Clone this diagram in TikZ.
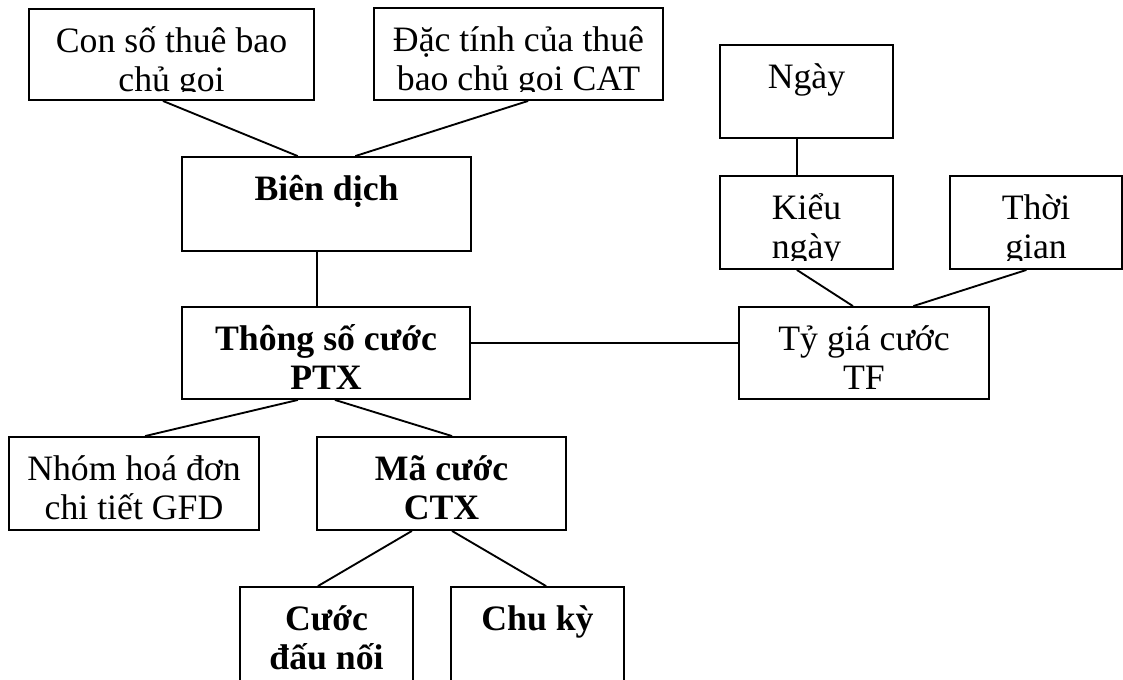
\documentclass[tikz,border=0pt]{standalone}
\usepackage{fontspec}
\setmainfont{Liberation Serif}
\usetikzlibrary{fit,calc}

\tikzset{
  box/.style={draw, rectangle, line width=1.4pt, inner sep=0pt},
  link/.style={line width=1.4pt},
  txt/.style={anchor=base, inner sep=0pt, font=\fontsize{26.8}{29.4}\selectfont},
}

% text of a box: first baseline a fixed distance below the top edge,
% clipped a little above the bottom edge
\newcommand\boxtext[3]{%
  \begin{scope}
    \clip ([yshift=6.75pt]#1.south west) rectangle (#1.north east);
    \node[txt] (#1-t) at ([yshift=-33pt]#1.north)
      {#2\begin{tabular}[t]{@{}c@{}}#3\end{tabular}};
  \end{scope}}

\begin{document}
\begin{tikzpicture}[x=0.75pt, y=-0.75pt]
  \fill[white] (0,0) rectangle (1123,679);
  \useasboundingbox (0,0) rectangle (1123,679);

  % boxes
  \node[box, fit={(29,9) (314,100)}]    (sub)  {};
  \node[box, fit={(374,8) (663,100)}]   (cat)  {};
  \node[box, fit={(182,157) (471,251)}] (bien) {};
  \node[box, fit={(182,307) (470,399)}] (ptx)  {};
  \node[box, fit={(9,437) (259,530)}]   (gfd)  {};
  \node[box, fit={(317,437) (566,530)}] (ctx)  {};
  \node[box, fit={(240,587) (413,700)}] (dau)  {};
  \node[box, fit={(451,587) (624,700)}] (chu)  {};
  \node[box, fit={(720,45) (893,138)}]  (ngay) {};
  \node[box, fit={(720,176) (893,269)}] (kieu) {};
  \node[box, fit={(950,176) (1122,269)}] (thoi) {};
  \node[box, fit={(739,307) (989,399)}] (tf)   {};

  % labels
  \boxtext{sub}{}{Con số thuê bao\\chủ gọi}
  \boxtext{cat}{}{Đặc tính của thuê\\bao chủ gọi CAT}
  \boxtext{bien}{\bfseries}{Biên dịch}
  \boxtext{ptx}{\bfseries}{Thông số cước\\PTX}
  \boxtext{gfd}{}{Nhóm hoá đơn\\chi tiết GFD}
  \boxtext{ctx}{\bfseries}{Mã cước\\CTX}
  \boxtext{dau}{\bfseries}{Cước\\đấu nối}
  \boxtext{chu}{\bfseries}{Chu kỳ}
  \boxtext{ngay}{}{Ngày}
  \boxtext{kieu}{}{Kiểu\\ngày}
  \boxtext{thoi}{}{Thời\\gian}
  \boxtext{tf}{}{Tỷ giá cước\\TF}

  % connectors
  \draw[link] ($(sub.south west)!0.470!(sub.south east)$) -- ($(bien.north west)!0.401!(bien.north east)$);
  \draw[link] ($(cat.south west)!0.533!(cat.south east)$) -- ($(bien.north west)!0.599!(bien.north east)$);
  \draw[link] ($(bien.south west)!0.467!(bien.south east)$) coordinate (v1) -- (v1 |- ptx.north);
  \draw[link] ($(ptx.north east)!0.391!(ptx.south east)$) coordinate (h1) -- (h1 -| tf.west);
  \draw[link] ($(ptx.south west)!0.403!(ptx.south east)$) -- ($(gfd.north west)!0.544!(gfd.north east)$);
  \draw[link] ($(ptx.south west)!0.531!(ptx.south east)$) -- ($(ctx.north west)!0.542!(ctx.north east)$);
  \draw[link] ($(ctx.south west)!0.382!(ctx.south east)$) -- ($(dau.north west)!0.451!(dau.north east)$);
  \draw[link] ($(ctx.south west)!0.542!(ctx.south east)$) -- ($(chu.north west)!0.549!(chu.north east)$);
  \draw[link] ($(ngay.south west)!0.445!(ngay.south east)$) coordinate (v2) -- (v2 |- kieu.north);
  \draw[link] ($(kieu.south west)!0.445!(kieu.south east)$) -- ($(tf.north west)!0.456!(tf.north east)$);
  \draw[link] ($(thoi.south west)!0.445!(thoi.south east)$) -- ($(tf.north west)!0.696!(tf.north east)$);
\end{tikzpicture}
\end{document}
